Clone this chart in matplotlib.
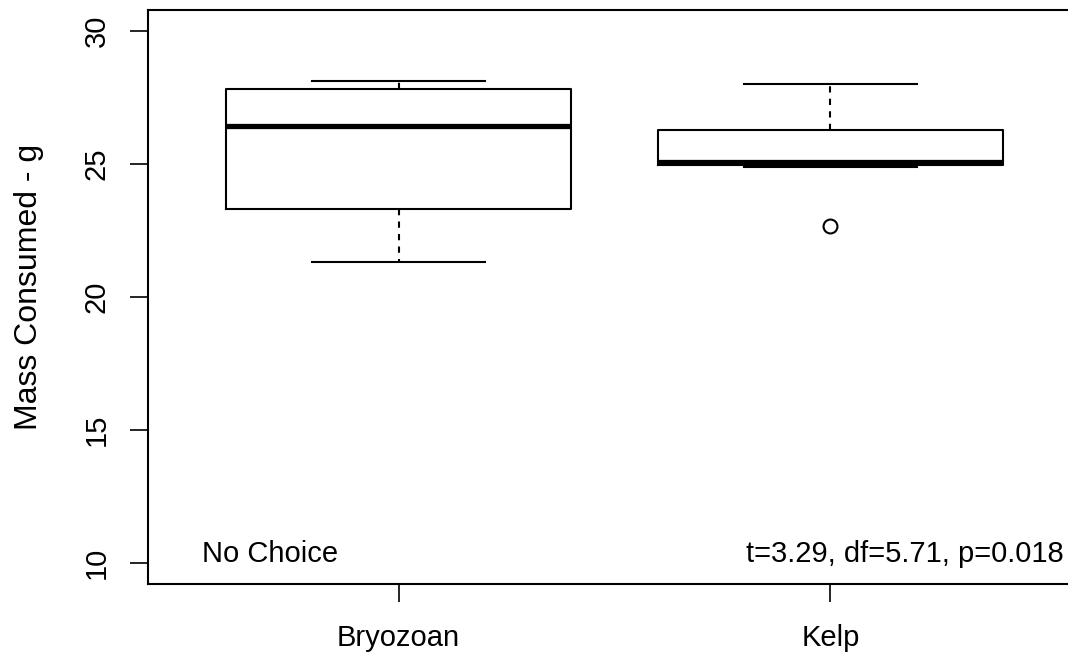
import matplotlib
matplotlib.use("Agg")
import matplotlib.pyplot as plt

plt.rcParams['font.family'] = ['Liberation Sans', 'DejaVu Sans']

# data
groups = ["Bryozoan", "Kelp"]
whislo = [21.3, 24.91]
q1 = [23.33, 24.96]
med = [26.42, 25.09]
q3 = [27.82, 26.27]
whishi = [28.11, 28.0]
fliers = [[], [22.68]]
yticks = [10, 15, 20, 25, 30]
note_left = "No Choice"
note_right = "t=3.29, df=5.71, p=0.018"

stats = []
for i in range(len(groups)):
    stats.append(dict(label=groups[i], whislo=whislo[i], q1=q1[i], med=med[i],
                      q3=q3[i], whishi=whishi[i], fliers=fliers[i]))

fig = plt.figure(figsize=(10.68, 6.56), dpi=100)
ax = fig.add_axes([148/1068, 72/656, 933/1068, 574/656])

ax.bxp(stats, positions=[1, 2], widths=0.8, capwidths=0.4,
       boxprops=dict(color="black", lw=1.5),
       medianprops=dict(color="black", lw=3.8, solid_capstyle="butt"),
       whiskerprops=dict(color="black", lw=1.5, linestyle=(0, (3, 3))),
       capprops=dict(color="black", lw=1.5),
       flierprops=dict(marker="o", markerfacecolor="none", markeredgecolor="black",
                       markersize=10, markeredgewidth=1.5))

ax.set_xlim(0.42, 2.58)
ax.set_ylim(9.2, 30.8)
ax.set_yticks(yticks)
ax.set_yticklabels([str(v) for v in yticks], rotation=90, va="center")
ax.tick_params(axis="both", length=13, width=1.2, labelsize=21, direction="out")
ax.tick_params(axis="y", pad=14)
ax.tick_params(axis="x", pad=16)
for s in ax.spines.values():
    s.set_linewidth(1.5)

ax.set_ylabel("Mass Consumed - g", fontsize=23)
ax.yaxis.set_label_coords(-0.112, 0.518)

ax.text(0.546, 10.04, note_left, fontsize=21, ha="left", va="baseline")
ax.text(2.539, 10.04, note_right, fontsize=21, ha="right", va="baseline")

fig.savefig("out.png", dpi=100)
